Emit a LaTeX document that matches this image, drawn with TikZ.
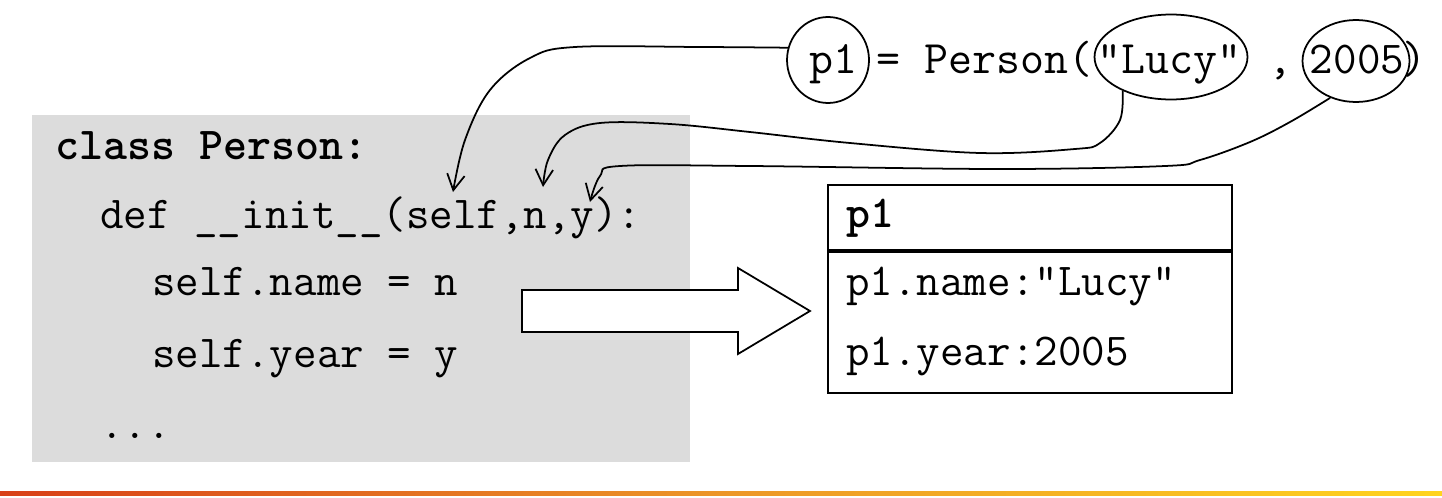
\documentclass[tikz,border=0pt]{standalone}
\usepackage{tikz}
\usetikzlibrary{arrows.meta,shapes,positioning,calc}
\definecolor{codeGray}{RGB}{220,220,220}
\definecolor{barRed}  {RGB}{216, 64, 24}
\definecolor{barOrange}{RGB}{236,150, 40}
\definecolor{barGold} {RGB}{255,212, 30}

\begin{document}
\begin{tikzpicture}[x=0.02cm,y=-0.02cm,
    code/.style={font=\ttfamily\fontsize{26}{30}\selectfont,anchor=base west,inner sep=0pt},
    call code/.style={code,font=\ttfamily\fontsize{26.5}{30}\selectfont},
    bold code/.style={code,font=\ttfamily\bfseries\fontsize{26}{30}\selectfont},
    bubble/.style={draw,ellipse,line width=1pt,inner sep=0pt},
    link/.style={-{Straight Barb[length=9pt,width=10pt]},line width=1pt}]
        \useasboundingbox (0,0) rectangle (1442,497);

        % Bloco de codigo
        \fill[codeGray] (32,115) rectangle (690,462);
        \node[bold code] (cls)  at (55,159)  {class Person:};
        \node[code]      (init) at (100,228) {def \_\_init\_\_(self,n,y):};
        \node[code]      (name) at (152,295) {self.name = n};
        \node[code]      (year) at (152,367) {self.year = y};
        \node[code]      (dots) at (100,438) {...};

        % Chamada
        \node[call code] (p1txt)   at (809,73)  {p1};
        \node[call code] (eq)      at (876,73)  {= Person(};
        \node[call code] (lucytxt) at (1097,73) {"Lucy"};
        \node[call code] (comma)   at (1268,73) {,};
        \node[code,anchor=base] (yrtxt) at (1357,73) {2005};
        \node[call code] (close)   at (1402,73) {)};
        \node[bubble,minimum width=1.64cm,minimum height=1.72cm] (p1)   at (828,60)  {};
        \node[bubble,minimum width=3.06cm,minimum height=1.7cm]  (lucy) at (1171,57) {};
        \node[bubble,minimum width=2.14cm,minimum height=1.64cm] (yr)   at (1356,61) {};

        % Pontos de chegada
        \coordinate (tself) at (453,192);
        \coordinate (tn)    at (543,187);
        \coordinate (ty)    at (590,202);

        \draw[link] plot[smooth,tension=0.6] coordinates
          {(p1.163) (700,47) (575,47) (530,58) (490,90) (465,140) (tself)};
        \draw[link] plot[smooth,tension=0.6] coordinates
          {(lucy.215) (1120,120) (1100,143) (1075,149) (980,153) (850,143)
           (750,132) (670,124) (600,123) (565,135) (548,160) (tn)};
        \draw[link] plot[smooth,tension=0.6] coordinates
          {(yr.235) (1290,122) (1250,142) (1200,160) (1165,166) (1000,169)
           (750,166) (620,166) (600,176) (ty)};

        % Seta grossa
        \draw[fill=white,line width=1pt] (522,290) -- (738,290) -- (738,268)
          -- (810,311) -- (738,354) -- (738,332) -- (522,332) -- cycle;

        % Objeto p1
        \node[draw,line width=1pt,minimum width=8.08cm,minimum height=4.16cm] (obj) at (1030,289) {};
        \coordinate (sep) at (0,251);
        \draw[line width=2.4pt] (obj.west |- sep) -- (obj.east |- sep);
        \node[bold code] (head)  at (846,227) {p1};
        \node[code]      (oname) at (846,295) {p1.name:"Lucy"};
        \node[code]      (oyear) at (846,365) {p1.year:2005};

        % Faixa
        \shade[left color=barRed,right color=barGold,middle color=barOrange] (0,491) rectangle (1442,495);
\end{tikzpicture}
\end{document}
